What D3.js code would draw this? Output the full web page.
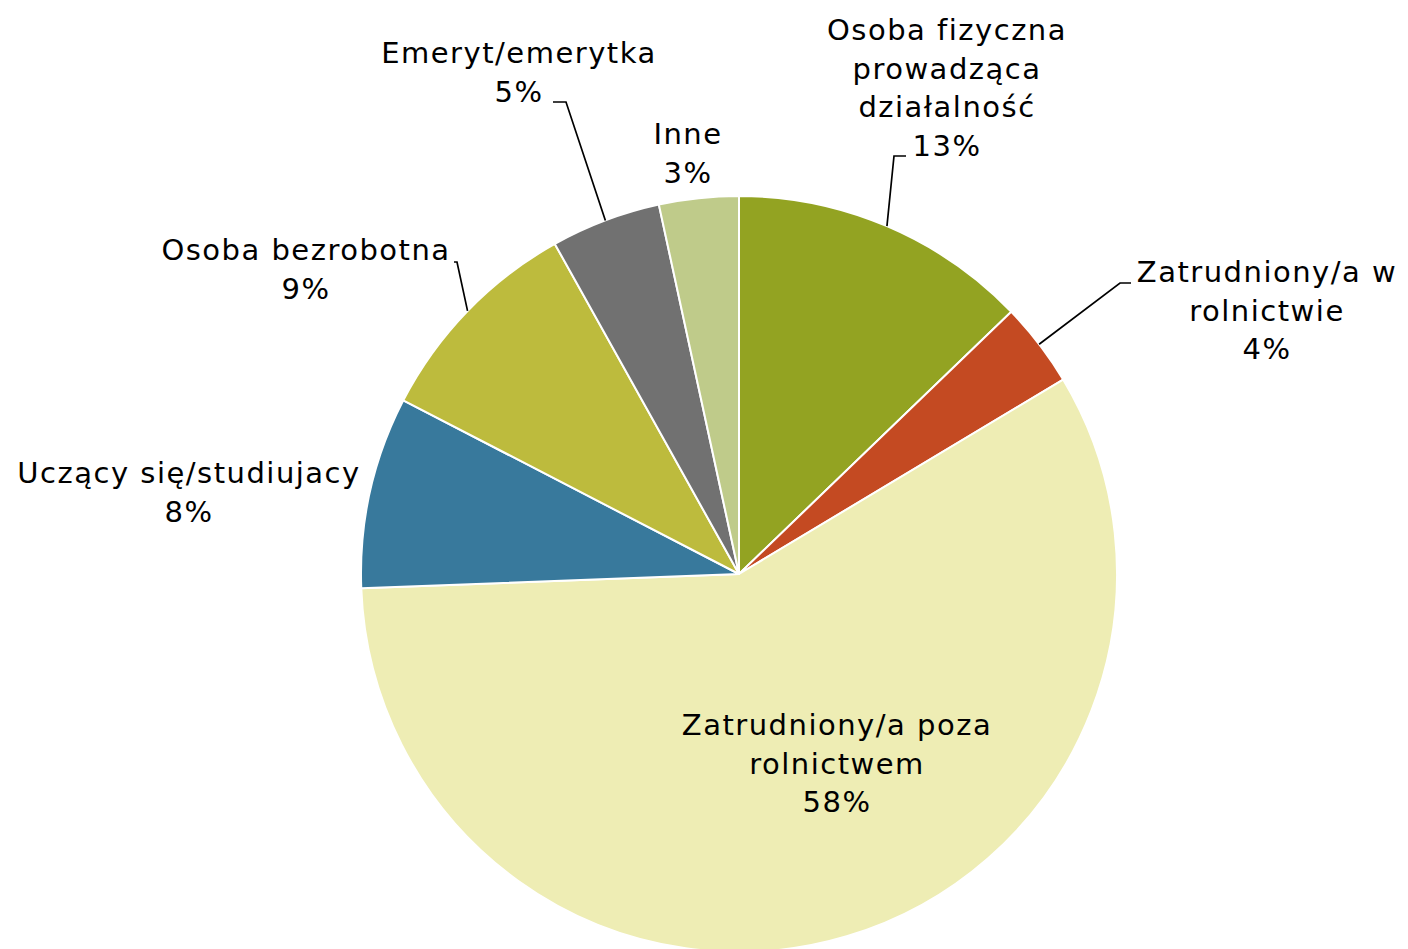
<!DOCTYPE html>
<html>
<head>
<meta charset="utf-8">
<script src="https://cdn.jsdelivr.net/npm/d3@7"></script>
<style>
  body { margin: 0; background: #fff; }
  text { font-family: "DejaVu Sans", Verdana, sans-serif; font-size: 29px; letter-spacing: 1.5px; fill: #000; }
</style>
</head>
<body>
<div class="vis"></div>
<script>
'use strict';

// data (clockwise from 12 o'clock)
var categories = [
	'Osoba fizyczna prowadząca działalność',
	'Zatrudniony/a w rolnictwie',
	'Zatrudniony/a poza rolnictwem',
	'Uczący się/studiujacy',
	'Osoba bezrobotna',
	'Emeryt/emerytka',
	'Inne'
];
var values = [12.8, 3.6, 58.0, 8.2, 9.3, 4.7, 3.4];
var labelLines = [
	['Osoba fizyczna', 'prowadząca', 'działalność'],
	['Zatrudniony/a w', 'rolnictwie'],
	['Zatrudniony/a poza', 'rolnictwem'],
	['Uczący się/studiujacy'],
	['Osoba bezrobotna'],
	['Emeryt/emerytka'],
	['Inne']
];
var colors = ['#93a322', '#c44a22', '#eeedb4', '#38799c', '#bdbb3d', '#717171', '#bfcb8a'];

(function () {
	var width = 1408;
	var height = 949;
	var cx = 739;
	var cy = 574;
	var radius = 378;
	var lineHeight = 38.7;

	// label anchors: centre x and first baseline y
	var labelPos = [
		[947, 40], [1267, 282], [837, 735], [189, 483], [306, 260], [519, 63], [688, 144]
	];
	// leader line elbows (null = no leader)
	var leaders = [
		[[894, 156], [906, 156]],
		[[1120, 283], [1131, 283]],
		null,
		null,
		[[457, 262], [454, 262]],
		[[566, 102], [553, 102]],
		null
	];

	var total = d3.sum(values);

	var svg = d3.select('.vis')
		.append('svg')
			.attr('width', width)
			.attr('height', height);

	var g = svg.append('g')
		.attr('transform', 'translate(' + cx + ',' + cy + ')');

	var pie = d3.pie()
		.sort(null)
		.value(function(d) { return d; });

	var arc = d3.arc()
		.innerRadius(0)
		.outerRadius(radius);

	var arcs = pie(values);

	g.selectAll('path')
		.data(arcs)
		.enter()
		.append('path')
			.attr('d', arc)
			.attr('fill', function(d, i) { return colors[i]; })
			.attr('stroke', '#fff')
			.attr('stroke-width', 2)
			.attr('stroke-linejoin', 'round');

	// leader lines start at the mid angle of each slice on the rim
	arcs.forEach(function(d, i) {
		if (!leaders[i]) return;
		var a = (d.startAngle + d.endAngle) / 2;
		var p0 = [cx + radius * Math.sin(a), cy - radius * Math.cos(a)];
		var pts = [p0].concat(leaders[i]);
		svg.append('path')
			.attr('d', d3.line()(pts))
			.attr('fill', 'none')
			.attr('stroke', '#000')
			.attr('stroke-width', 1.7);
	});

	// labels: name lines plus rounded percentage
	arcs.forEach(function(d, i) {
		var lines = labelLines[i].concat([Math.round(values[i] / total * 100) + '%']);
		var t = svg.append('text')
			.attr('text-anchor', 'middle')
			.attr('x', labelPos[i][0])
			.attr('y', labelPos[i][1]);
		lines.forEach(function(s, j) {
			t.append('tspan')
				.attr('x', labelPos[i][0])
				.attr('y', labelPos[i][1] + j * lineHeight)
				.text(s);
		});
	});
})();
</script>
</body>
</html>
